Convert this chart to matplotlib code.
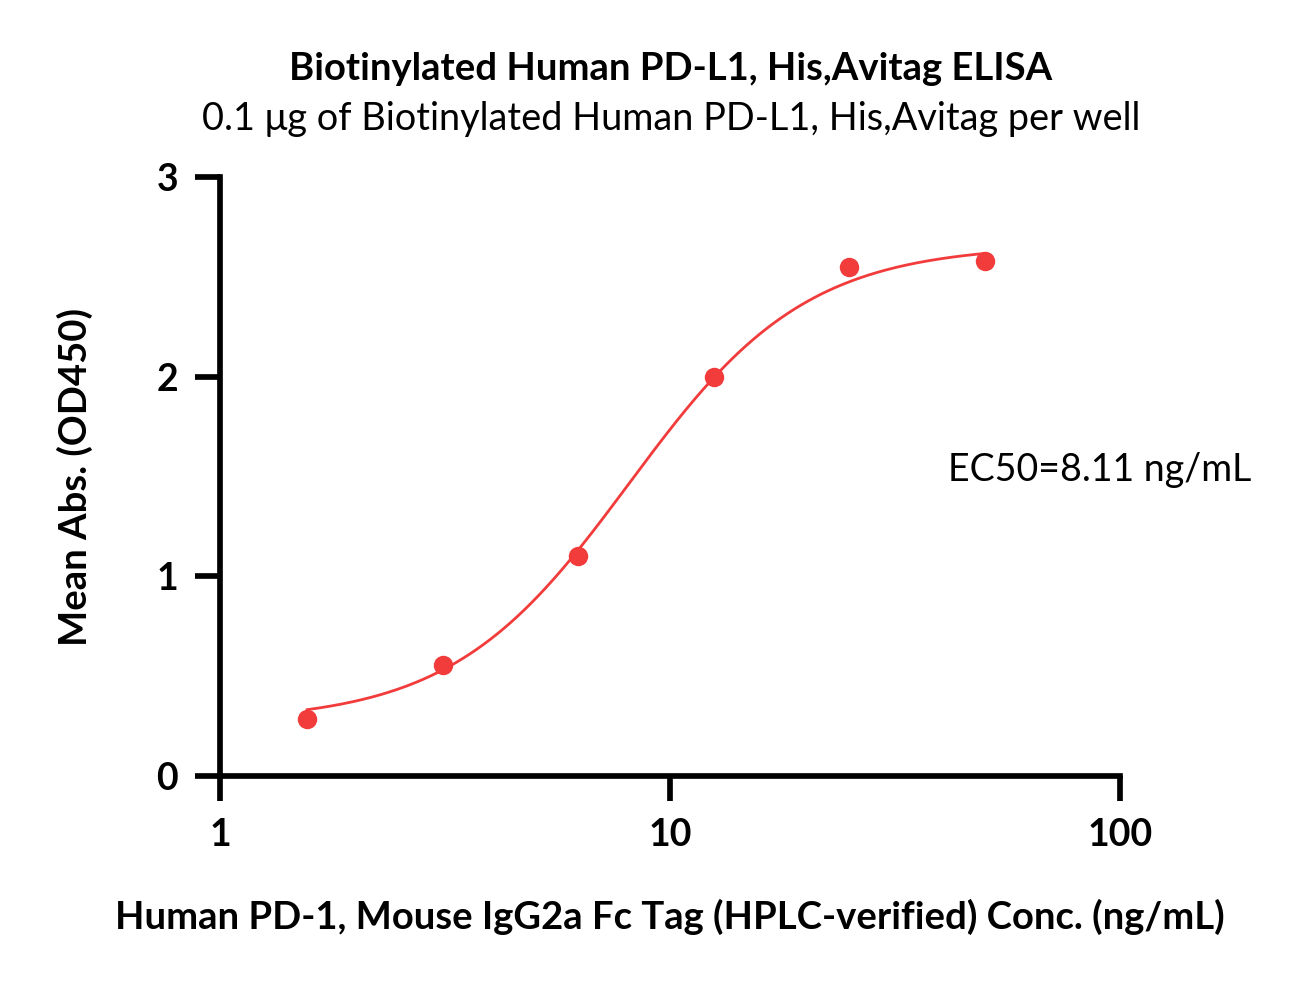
import numpy as np
import matplotlib
matplotlib.use("Agg")
import matplotlib.pyplot as plt

plt.rcParams['font.family'] = ['Lato', 'DejaVu Sans']

# measured points
conc = [1.5625, 3.125, 6.25, 12.5, 25, 50]
absorb = [0.285, 0.556, 1.10, 2.00, 2.55, 2.58]

# 4PL fit parameters
bottom = 0.27
top = 2.66
ec50 = 8.11
hill = 2.2

red = '#F23C3C'

fig = plt.figure(figsize=(12.92, 9.81), dpi=100)
ax = fig.add_axes([220 / 1292, 1 - 776 / 981, 900 / 1292, 599 / 981])

xfit = np.logspace(np.log10(conc[0]), np.log10(conc[-1]), 300)
yfit = bottom + (top - bottom) / (1 + (ec50 / xfit) ** hill)
ax.plot(xfit, yfit, color=red, lw=2.0, zorder=2)
ax.plot(conc, absorb, 'o', color=red, ms=14, mec='none', zorder=3)

ax.set_xscale('log')
ax.set_xlim(1, 100)
ax.set_ylim(0, 3)
ax.set_xticks([1, 10, 100])
ax.set_xticklabels(['1', '10', '100'])
ax.set_yticks([0, 1, 2, 3])
ax.xaxis.set_minor_locator(matplotlib.ticker.NullLocator())

for s in ['top', 'right']:
    ax.spines[s].set_visible(False)
for s in ['left', 'bottom']:
    ax.spines[s].set_linewidth(4.1)
ax.tick_params(axis='both', width=4.1, length=18, labelsize=27, pad=12)
for lab in ax.get_xticklabels() + ax.get_yticklabels():
    lab.set_fontweight('bold')

ax.set_xlabel('Human PD-1, Mouse IgG2a Fc Tag (HPLC-verified) Conc. (ng/mL)',
              fontsize=27.5, fontweight='bold', labelpad=34)
ax.set_ylabel('Mean Abs. (OD450)', fontsize=27.5, fontweight='bold', labelpad=46)

fig.text(671 / 1292, 1 - 69 / 981, 'Biotinylated Human PD-L1, His,Avitag ELISA',
         ha='center', va='center', fontsize=27.5, fontweight='bold')
fig.text(671 / 1292, 1 - 119 / 981, '0.1 μg of Biotinylated Human PD-L1, His,Avitag per well',
         ha='center', va='center', fontsize=27.3)
ax.text(1100 / 1292, 1 - 470 / 981, 'EC50=8.11 ng/mL', transform=fig.transFigure,
        ha='center', va='center', fontsize=27)

fig.savefig('out.png', dpi=100)
